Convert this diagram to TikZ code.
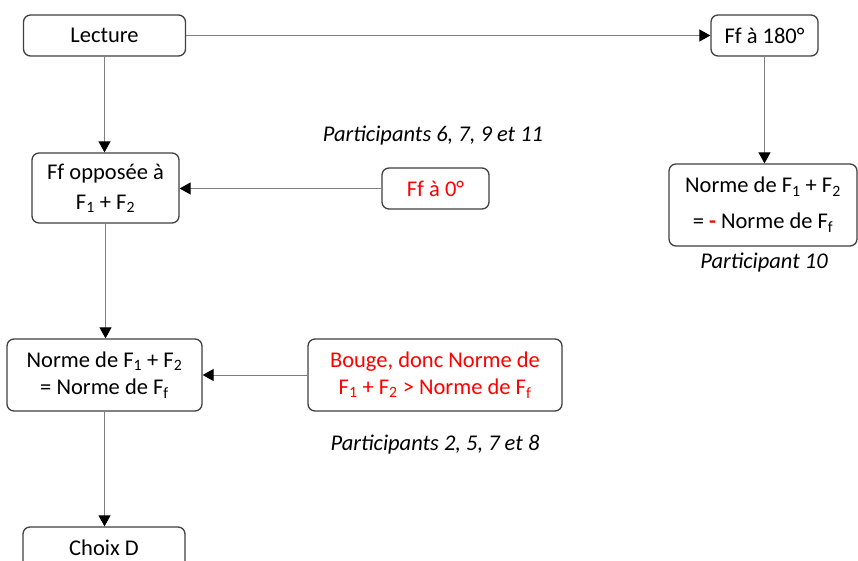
\documentclass[tikz,border=0pt]{standalone}
\usepackage{fontspec}
\setmainfont{Carlito}
\usetikzlibrary{arrows.meta}
\definecolor{boxline}{HTML}{404040}
\definecolor{wire}{HTML}{7F7F7F}
\definecolor{hot}{HTML}{FF0000}

\begin{document}
\begin{tikzpicture}[x=1pt,y=-1pt,
  box/.style={draw=boxline, line width=1.3pt, rounded corners=7pt, fill=white,
    inner sep=0pt, align=center, font=\fontsize{22.5}{27}\selectfont},
  link/.style={draw=wire, line width=1pt,
    -{Triangle[length=11pt,width=12pt,color=black]}},
  note/.style={inner sep=0pt, font=\fontsize{22.5}{27}\selectfont\itshape}]
\useasboundingbox (0,0) rectangle (858,561);

% boxes
\node[box, minimum width=162pt, minimum height=41pt] (lect) at (104.5,35.5) {Lecture};
\node[box, minimum width=107pt, minimum height=41pt] (ff180) at (764.5,35.5) {Ff à 180°};
\node[box, minimum width=147pt, minimum height=70pt,
  font=\fontsize{22.5}{30}\selectfont] (ffopp) at (105.5,188)
  {Ff opposée à\\F\textsubscript{1} + F\textsubscript{2}};
\node[box, minimum width=107pt, minimum height=41pt, text=hot] (ff0) at (435.5,188.5) {Ff à 0°};
\node[box, minimum width=188pt, minimum height=82pt,
  font=\fontsize{22.5}{36}\selectfont] (normeR) at (763,205)
  {Norme de F\textsubscript{1} + F\textsubscript{2}\\= \textcolor{hot}{\textbf{-}} Norme de F\textsubscript{f}};
\node[box, minimum width=195pt, minimum height=72pt] (normeL) at (104.5,375)
  {Norme de F\textsubscript{1} + F\textsubscript{2}\\= Norme de F\textsubscript{f}};
\node[box, minimum width=254pt, minimum height=72pt, text=hot] (bouge) at (435,375)
  {Bouge, donc Norme de\\F\textsubscript{1} + F\textsubscript{2} > Norme de F\textsubscript{f}};
\node[box, minimum width=162pt, minimum height=42pt] (choix) at (104,548) {Choix D};

% participant notes
\node[note] (p1) at (433,136) {Participants 6, 7, 9 et 11};
\node[note] (p2) at (764,263) {Participant 10};
\node[note] (p3) at (435,445) {Participants 2, 5, 7 et 8};

% connectors
\draw[link] (lect.east) -- (ff180.west);
\draw[link] (lect.south) -- (lect.south |- ffopp.north);
\draw[link] (ff180.south) -- (ff180.south |- normeR.north);
\draw[link] (ff0.west) -- (ff0.west -| ffopp.east);
\draw[link] (ffopp.south) -- (ffopp.south |- normeL.north);
\draw[link] (bouge.west) -- (normeL.east);
\draw[link] (normeL.south) -- (normeL.south |- choix.north);
\end{tikzpicture}
\end{document}
